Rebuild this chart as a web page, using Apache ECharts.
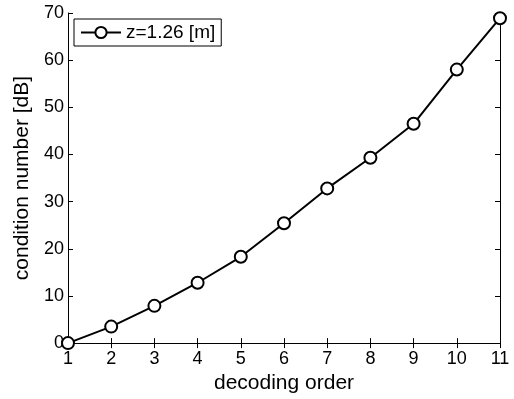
<!DOCTYPE html>
<html>
<head>
<meta charset="utf-8">
<script src="https://cdn.jsdelivr.net/npm/echarts@6/dist/echarts.min.js"></script>
<style>
  html, body { margin: 0; padding: 0; background: #fff; }
  #chart { width: 514px; height: 399px; }
</style>
</head>
<body>
<div id="chart"></div>
<script>
// decoding order vs condition number
const decodingOrder = [1, 2, 3, 4, 5, 6, 7, 8, 9, 10, 11];
const conditionDb = [0, 3.5, 7.9, 12.8, 18.3, 25.4, 32.8, 39.3, 46.5, 58.0, 68.9];
const seriesName = 'z=1.26 [m]';

const chart = echarts.init(document.getElementById('chart'));

const font = 'Liberation Sans, Arial, sans-serif';
const axisLine = { show: true, lineStyle: { color: '#000', width: 1 } };
const tick = { show: true, inside: true, length: 5, lineStyle: { color: '#000' } };
const nameStyle = { fontFamily: font, fontSize: 21, color: '#000' };
const labelStyle = { fontFamily: font, fontSize: 18, color: '#000' };

const option = {
  animation: false,
  backgroundColor: '#fff',
  grid: { left: 68, right: 14, top: 13, bottom: 49, containLabel: false },
  legend: {
    left: 74,
    top: 19,
    padding: [4, 6, 4, 6],
    borderColor: '#000',
    borderWidth: 1,
    itemWidth: 40,
    itemHeight: 14,
    itemGap: 0,
    textStyle: { fontFamily: font, fontSize: 19, color: '#000' },
    data: [seriesName]
  },
  xAxis: [
    {
      type: 'value',
      min: 1,
      max: 11,
      interval: 1,
      name: 'decoding order',
      nameLocation: 'middle',
      nameGap: 28,
      nameTextStyle: nameStyle,
      axisLine: axisLine,
      axisTick: tick,
      axisLabel: Object.assign({ margin: 7 }, labelStyle),
      splitLine: { show: false }
    },
    {
      type: 'value',
      position: 'top',
      min: 1,
      max: 11,
      interval: 1,
      axisLine: axisLine,
      axisTick: tick,
      axisLabel: { show: false },
      splitLine: { show: false }
    }
  ],
  yAxis: [
    {
      type: 'value',
      min: 0,
      max: 70,
      interval: 10,
      name: 'condition number [dB]',
      nameLocation: 'middle',
      nameGap: 35,
      nameTextStyle: nameStyle,
      axisLine: axisLine,
      axisTick: tick,
      axisLabel: Object.assign({ margin: 4 }, labelStyle),
      splitLine: { show: false }
    },
    {
      type: 'value',
      position: 'right',
      min: 0,
      max: 70,
      interval: 10,
      axisLine: axisLine,
      axisTick: tick,
      axisLabel: { show: false },
      splitLine: { show: false }
    }
  ],
  series: [
    {
      name: seriesName,
      type: 'line',
      data: decodingOrder.map((x, i) => [x, conditionDb[i]]),
      symbol: 'circle',
      symbolSize: 12,
      showAllSymbol: true,
      clip: false,
      lineStyle: { color: '#000', width: 2 },
      itemStyle: { color: '#fff', borderColor: '#000', borderWidth: 2 }
    }
  ]
};

chart.setOption(option);
</script>
</body>
</html>
